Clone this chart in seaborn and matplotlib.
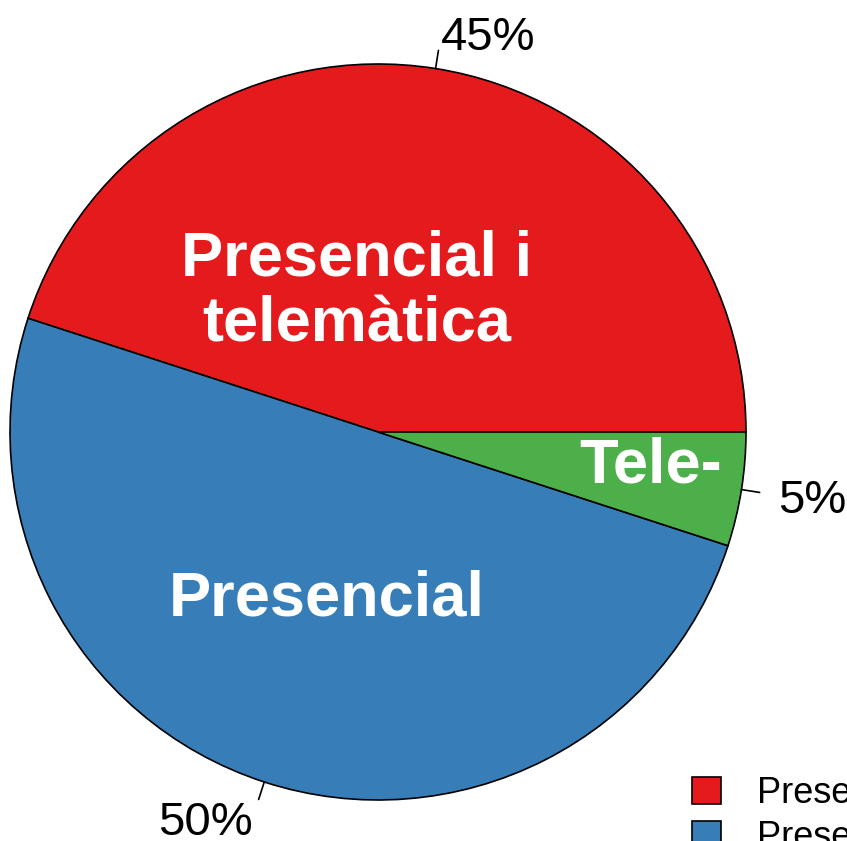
import numpy as np
import matplotlib
matplotlib.use("Agg")
import matplotlib.pyplot as plt
import matplotlib.patches as mpatches
import seaborn as sns

# data
categories = ["Presencial i telemàtica", "Presencial", "Telemàtica"]
shares = [45, 50, 5]
pct_labels = ["45%", "50%", "5%"]
inner_labels = ["Presencial i\ntelemàtica", "Presencial", "Tele-"]

sns.set_theme(style="white")
plt.rcParams['font.family'] = ['Liberation Sans', 'DejaVu Sans']
plt.rcParams['text.color'] = 'black'

colors = sns.color_palette("Set1", 3)

W, H = 847, 841
fig = plt.figure(figsize=(W / 100, H / 100), dpi=100)
ax = fig.add_axes([0, 0, 1, 1])

# pie centre and radius in pixels
cx, cy, R = 378, 432, 368

wedges, texts = ax.pie(shares, colors=colors, startangle=0, counterclock=True,
                       labels=pct_labels, labeldistance=1.1,
                       wedgeprops=dict(edgecolor="black", linewidth=1.2),
                       textprops=dict(fontsize=34, color="black"))
# nudge outer labels down a little (visual centring like the reference)
for t in texts:
    x, y = t.get_position()
    t.set_position((x, y - 6 / R))

# short tick lines from the rim to the outer labels
cum = np.cumsum([0] + shares)
mids = (cum[:-1] + cum[1:]) / 2 / sum(shares) * 2 * np.pi
for a in mids:
    ax.plot([np.cos(a), 1.05 * np.cos(a)], [np.sin(a), 1.05 * np.sin(a)],
            color="black", lw=1.2)

# labels inside the slices
inner_pos = [(-0.058, 0.38), (-0.14, -0.455), (0.74, -0.093)]
for txt, (x, y) in zip(inner_labels, inner_pos):
    ax.text(x, y, txt, ha="center", va="center", color="white",
            fontsize=45.5, fontweight="bold", linespacing=1.15)

ax.set_xlim(-cx / R, (W - cx) / R)
ax.set_ylim(-(H - cy) / R, cy / R)
ax.set_aspect("auto")
ax.axis("off")

handles = [mpatches.Patch(facecolor=c, edgecolor="black", linewidth=1.2)
           for c in colors]
leg = fig.legend(handles, categories, loc="upper left",
                 bbox_to_anchor=(692 / W, 1 - 776 / H), frameon=False,
                 fontsize=26, handlelength=0.8, handleheight=0.8,
                 handletextpad=1.0, labelspacing=0.25, borderpad=0,
                 borderaxespad=0)
for t in leg.get_texts():
    t.set_color("black")

fig.savefig("out.png", dpi=100)
